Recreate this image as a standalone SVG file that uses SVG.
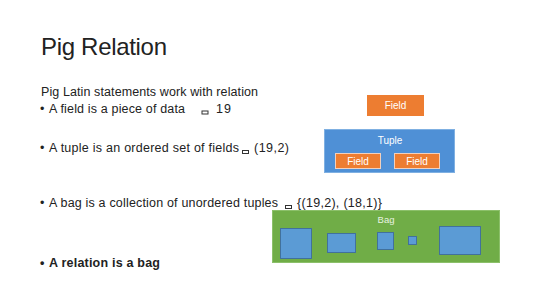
<svg xmlns="http://www.w3.org/2000/svg" width="536" height="302" viewBox="0 0 536 302">
<style>
text{font-family:"Liberation Sans",Arial,sans-serif;fill:#222}
.title{font-size:24px}
.body{font-size:12.5px}
.bold{font-weight:bold}
.sym{fill:none;stroke:#333;stroke-width:1}
.field{fill:#ED7D31}
.fieldIn{fill:#ED7D31;stroke:#F2D0BC;stroke-width:1}
.tuple{fill:#4F90D6;stroke:#7FB0E2;stroke-width:1}
.bag{fill:#70AD47;stroke:#8CC06A;stroke-width:1}
.item{fill:#5B9BD5;stroke:#41719C;stroke-width:1}
.lbl{fill:#fff;font-size:10px;text-anchor:middle}
</style>
<rect width="536" height="302" fill="#fff"/>
<g id="title"><text class="title" x="41" y="55" textLength="126">Pig Relation</text></g>
<g id="text">
<text class="body" x="41" y="96" textLength="217">Pig Latin statements work with relation</text>
<text class="body" x="40" y="113">•</text>
<text class="body" x="49" y="113" textLength="136">A field is a piece of data</text>
<rect class="sym" x="202" y="111" width="6" height="3"/>
<text class="body" x="216" y="113" textLength="15">19</text>
<text class="body" x="40" y="152">•</text>
<text class="body" x="49" y="152" textLength="190">A tuple is an ordered set of fields</text>
<rect class="sym" x="242.5" y="150.5" width="6" height="3"/>
<text class="body" x="254" y="152" textLength="35">(19,2)</text>
<text class="body" x="40" y="207">•</text>
<text class="body" x="49" y="207" textLength="229">A bag is a collection of unordered tuples</text>
<rect class="sym" x="285.5" y="205.5" width="6" height="3"/>
<text class="body" x="297" y="207" textLength="85">{(19,2), (18,1)}</text>
<text class="body bold" x="40" y="267">•</text>
<text class="body bold" x="49" y="267" textLength="111">A relation is a bag</text>
</g>
<g id="field">
<rect class="field" x="367" y="95" width="57" height="21"/>
<text class="lbl" x="395.5" y="109">Field</text>
</g>
<g id="tuple">
<rect class="tuple" x="324.5" y="129.5" width="130" height="43"/>
<text class="lbl" x="390" y="144">Tuple</text>
<g id="tuple-field-1">
<rect class="fieldIn" x="335.5" y="153.5" width="45" height="15"/>
<text class="lbl" x="358" y="165">Field</text>
</g>
<g id="tuple-field-2">
<rect class="fieldIn" x="394.5" y="153.5" width="45" height="15"/>
<text class="lbl" x="417" y="165">Field</text>
</g>
</g>
<g id="bag">
<rect class="bag" x="272.5" y="210.5" width="227" height="52"/>
<text class="lbl" x="386" y="223" style="font-size:9.5px;fill:#E8F2E0">Bag</text>
<rect class="item" x="280.5" y="228.5" width="31" height="30"/>
<rect class="item" x="327.5" y="233.5" width="28" height="19"/>
<rect class="item" x="377.5" y="232.5" width="16" height="17"/>
<rect class="item" x="408.5" y="236.5" width="8" height="8"/>
<rect class="item" x="439.5" y="226.5" width="41" height="28"/>
</g>
</svg>
